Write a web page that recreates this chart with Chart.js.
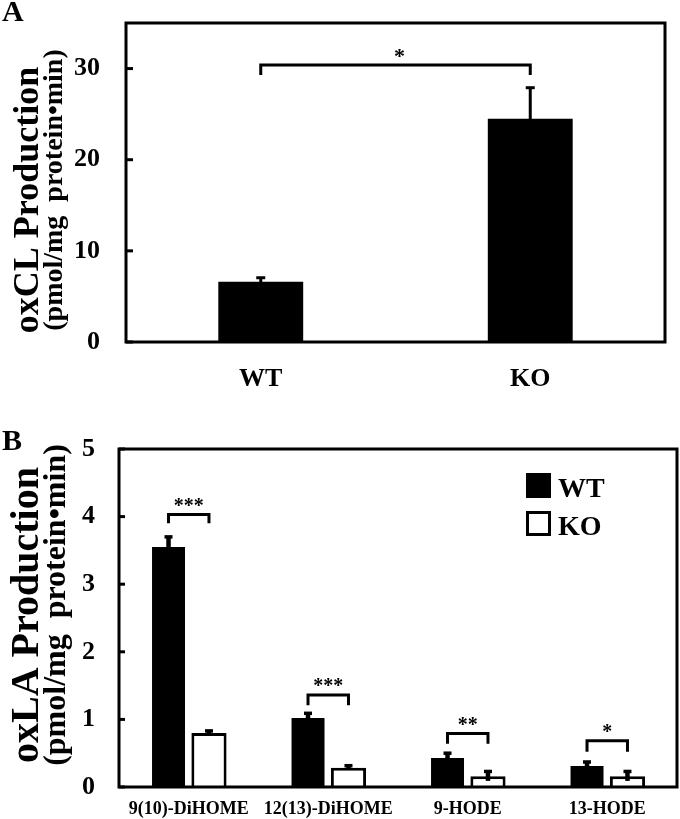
<!DOCTYPE html>
<html><head><meta charset="utf-8">
<script src="https://cdn.jsdelivr.net/npm/chart.js@4/dist/chart.umd.min.js"></script>
<style>
html,body{margin:0;padding:0;background:#fff;}
#wrap{position:relative;width:680px;height:819px;background:#fff;}
#boxA{position:absolute;left:0;top:0;width:680px;height:400px;}
#boxB{position:absolute;left:0;top:400px;width:680px;height:419px;}
canvas{display:block;}
</style></head><body>
<div id="wrap">
  <div id="boxA"><canvas id="chartA" width="680" height="400"></canvas></div>
  <div id="boxB"><canvas id="chartB" width="680" height="419"></canvas></div>
</div>
<script>
const FONT = "'Liberation Serif','Times New Roman',Times,serif";

// ---- Panel A data ----
const categoriesA = ['WT', 'KO'];
const valuesA = [6.6, 24.5];
const errorsA = [0.45, 3.4];
const bracketA = { top: 30.4, end: 29.3, label: '*' };

// ---- Panel B data ----
const categoriesB = ['9(10)-DiHOME', '12(13)-DiHOME', '9-HODE', '13-HODE'];
const seriesNamesB = ['WT', 'KO'];
const wtB = [3.55, 1.02, 0.43, 0.31];
const wtErrB = [0.15, 0.07, 0.07, 0.06];
const koB = [0.80, 0.285, 0.16, 0.16];
const koErrB = [0.03, 0.03, 0.07, 0.07];
const sigLabelsB = ['***', '***', '**', '*'];
const bracketTopB = [4.03, 1.36, 0.79, 0.685];
const bracketEndB = [3.90, 1.21, 0.64, 0.52];

function noPad(s) { s.paddingTop = 0; s.paddingBottom = 0; s.paddingLeft = 0; s.paddingRight = 0; }

const decor = {
  id: 'decor',
  afterDatasetsDraw(chart, args, o) {
    const ctx = chart.ctx, ca = chart.chartArea, ys = chart.scales.y;
    ctx.save();
    ctx.strokeStyle = '#000';
    ctx.fillStyle = '#000';
    // error bars
    chart.data.datasets.forEach((ds, di) => {
      const meta = chart.getDatasetMeta(di);
      meta.data.forEach((bar, i) => {
        const v = ds.data[i], e = ds.errors[i];
        const yt = ys.getPixelForValue(v + e), yb = ys.getPixelForValue(Math.max(0, v - e));
        ctx.lineWidth = o.errWidth;
        ctx.beginPath(); ctx.moveTo(bar.x, yb); ctx.lineTo(bar.x, yt); ctx.stroke();
        ctx.lineWidth = o.capWidth;
        ctx.beginPath(); ctx.moveTo(bar.x - o.cap / 2, yt); ctx.lineTo(bar.x + o.cap / 2, yt); ctx.stroke();
      });
    });
    // significance brackets
    o.brackets.forEach(b => {
      const x1 = chart.getDatasetMeta(b.from[0]).data[b.from[1]].x;
      const x2 = chart.getDatasetMeta(b.to[0]).data[b.to[1]].x;
      const yt = ys.getPixelForValue(b.top), ye = ys.getPixelForValue(b.end);
      ctx.lineWidth = o.bracketWidth;
      ctx.lineJoin = 'miter';
      ctx.beginPath(); ctx.moveTo(x1, ye); ctx.lineTo(x1, yt); ctx.lineTo(x2, yt); ctx.lineTo(x2, ye); ctx.stroke();
      ctx.font = 'bold ' + o.starSize + 'px ' + FONT;
      ctx.textAlign = 'center'; ctx.textBaseline = 'alphabetic';
      ctx.fillText(b.label, (x1 + x2) / 2 + o.starShift, yt - o.starGap);
    });
    // frame
    ctx.lineWidth = 3;
    ctx.strokeRect(ca.left, ca.top, ca.right - ca.left, ca.bottom - ca.top);
    // inner y ticks
    ys.ticks.forEach(t => {
      const py = ys.getPixelForValue(t.value);
      ctx.beginPath(); ctx.moveTo(ca.left, py); ctx.lineTo(ca.left + o.tickLen, py); ctx.stroke();
    });
    // y title (two lines)
    o.ytitle.forEach(l => {
      ctx.save();
      ctx.translate(l.x, l.y);
      ctx.rotate(-Math.PI / 2);
      ctx.font = 'bold ' + l.size + 'px ' + FONT;
      ctx.textAlign = 'center'; ctx.textBaseline = 'alphabetic';
      ctx.fillText(l.text, 0, 0);
      ctx.restore();
    });
    // panel letter
    ctx.font = 'bold 30px ' + FONT;
    ctx.textAlign = 'left'; ctx.textBaseline = 'alphabetic';
    ctx.fillText(o.letter.text, o.letter.x, o.letter.y);
    // legend
    if (o.legend) {
      const L = o.legend;
      chart.data.datasets.forEach((ds, di) => {
        const yy = L.y + di * L.step;
        ctx.fillStyle = ds.backgroundColor;
        ctx.fillRect(L.x, yy, L.box, L.box);
        ctx.lineWidth = 3; ctx.strokeStyle = '#000';
        ctx.strokeRect(L.x + 1.5, yy + 1.5, L.box - 3, L.box - 3);
        ctx.fillStyle = '#000';
        ctx.font = 'bold ' + L.size + 'px ' + FONT;
        ctx.fillText(ds.label, L.x + L.box + 7, yy + L.box - 1);
      });
    }
    ctx.restore();
  }
};

const tickFont = { family: FONT, size: 26, weight: 'bold' };

new Chart(document.getElementById('chartA'), {
  type: 'bar',
  data: {
    labels: categoriesA,
    datasets: [{ label: 'oxCL', data: valuesA, errors: errorsA, backgroundColor: '#000', borderWidth: 0,
      categoryPercentage: 1, barPercentage: 0.315 }]
  },
  options: {
    responsive: false, animation: false,
    layout: { padding: { top: 23, right: 15, left: 0, bottom: 0 } },
    scales: {
      x: { grid: { display: false, drawTicks: false }, border: { display: false },
        ticks: { font: tickFont, color: '#000', padding: 22, maxRotation: 0, autoSkip: false },
        afterFit(s) { s.height = 58; noPad(s); } },
      y: { min: 0, max: 35, grid: { display: false, drawTicks: false }, border: { display: false },
        ticks: { stepSize: 10, includeBounds: false, font: tickFont, color: '#000', padding: 26 },
        afterFit(s) { s.width = 126; noPad(s); } }
    },
    plugins: {
      legend: { display: false }, tooltip: { enabled: false },
      decor: {
        errWidth: 3, capWidth: 3, cap: 9, bracketWidth: 3, starSize: 22, starGap: 2, starShift: 4, tickLen: 7,
        brackets: [{ from: [0, 0], to: [0, 1], top: bracketA.top, end: bracketA.end, label: bracketA.label }],
        ytitle: [
          { text: 'oxCL Production', size: 36, x: 38, y: 200 },
          { text: '(pmol/mg  protein\u2022min)', size: 28, x: 62, y: 190 }
        ],
        letter: { text: 'A', x: 2, y: 21 }
      }
    }
  },
  plugins: [decor]
});

new Chart(document.getElementById('chartB'), {
  type: 'bar',
  data: {
    labels: categoriesB,
    datasets: [
      { label: seriesNamesB[0], data: wtB, errors: wtErrB, backgroundColor: '#000', borderColor: '#000', borderWidth: 0,
        categoryPercentage: 0.58, barPercentage: 0.815 },
      { label: seriesNamesB[1], data: koB, errors: koErrB, backgroundColor: '#fff', borderColor: '#000', borderWidth: 3,
        categoryPercentage: 0.58, barPercentage: 0.87 }
    ]
  },
  options: {
    responsive: false, animation: false,
    layout: { padding: { top: 49, right: 3, left: 0, bottom: 0 } },
    scales: {
      x: { grid: { display: false, drawTicks: false }, border: { display: false },
        ticks: { font: { family: FONT, size: 18, weight: 'bold' }, color: '#000', padding: 12, maxRotation: 0, autoSkip: false },
        afterFit(s) { s.height = 32; noPad(s); } },
      y: { min: 0, max: 5, grid: { display: false, drawTicks: false }, border: { display: false },
        ticks: { stepSize: 1, font: tickFont, color: '#000', padding: 24 },
        afterFit(s) { s.width = 119; noPad(s); } }
    },
    plugins: {
      legend: { display: false }, tooltip: { enabled: false },
      decor: {
        errWidth: 4.5, capWidth: 3.5, cap: 8, bracketWidth: 3, starSize: 20, starGap: 3, starShift: 0, tickLen: 6,
        brackets: categoriesB.map((c, i) => ({ from: [0, i], to: [1, i], top: bracketTopB[i], end: bracketEndB[i], label: sigLabelsB[i] })),
        ytitle: [
          { text: 'oxLA Production', size: 40, x: 38, y: 215 },
          { text: '(pmol/mg  protein\u2022min)', size: 32, x: 65, y: 205 }
        ],
        letter: { text: 'B', x: 2, y: 50 },
        legend: { x: 526, y: 73, step: 38, box: 25, size: 28 }
      }
    }
  },
  plugins: [decor]
});
</script>
</body></html>
